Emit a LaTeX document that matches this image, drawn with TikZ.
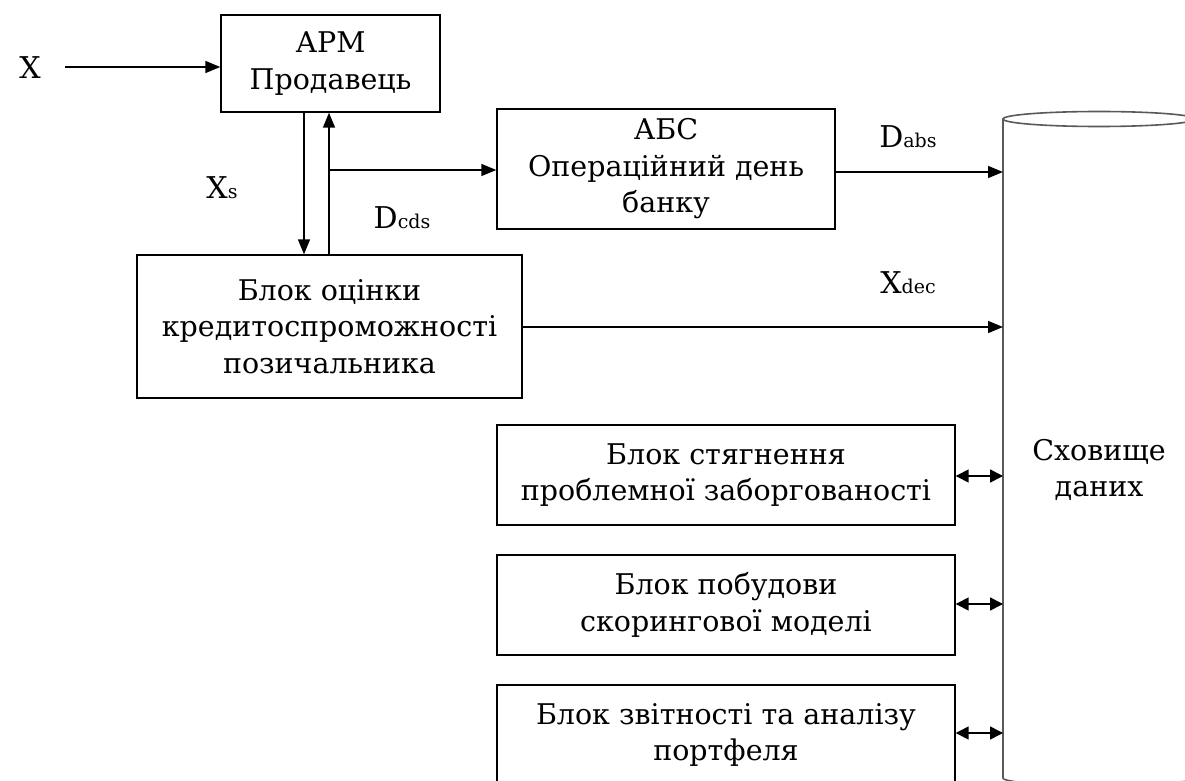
\documentclass[tikz,border=0pt]{standalone}
\usepackage{fontspec}
\setmainfont{DejaVu Serif}
\usetikzlibrary{arrows.meta}
\begin{document}
\begin{tikzpicture}[x=1pt,y=-1pt,
  blk/.style={draw, line width=1.4pt, inner sep=0pt, align=center, font=\fontsize{28.5}{36.5}\selectfont},
  lbl/.style={font=\fontsize{30}{32}\selectfont, inner sep=0pt},
  arr/.style={line width=1.5pt, -{Triangle[length=15pt,width=12pt]}},
  darr/.style={line width=1.5pt, {Triangle[length=13pt,width=13pt]}-{Triangle[length=13pt,width=13pt]}},
  cylline/.style={line width=1.6pt, draw=black!65}]
\useasboundingbox (0,0) rectangle (1185,781);
\clip (0,0) rectangle (1185,781);
% boxes
\node[blk, minimum width=219pt, minimum height=97pt] (apm) at (330.5,63.5) {АРМ\\Продавець};
\node[blk, minimum width=338pt, minimum height=120pt] (abs) at (666,169) {АБС\\Операційний день\\банку};
\node[blk, minimum width=385pt, minimum height=143pt] (ocin) at (329.5,326.5) {Блок оцінки\\кредитоспроможності\\позичальника};
\node[blk, minimum width=458pt, minimum height=100pt] (b1) at (726,475) {Блок стягнення\\проблемної заборгованості};
\node[blk, minimum width=458pt, minimum height=100pt] (b2) at (726,605) {Блок побудови\\скорингової моделі};
\node[blk, minimum width=458pt, minimum height=100pt] (b3) at (726,735) {Блок звітності та аналізу\\портфеля};
% cylinder
\draw[cylline] (1003,119) -- (1003,778) arc[start angle=180, end angle=360, x radius=96pt, y radius=7.5pt];
\draw[cylline] (1099,119) ellipse [x radius=96pt, y radius=7.5pt];
\node[blk, draw=none] (store) at (1099,470) {Сховище\\даних};
\coordinate (cl) at (1003,0);
% labels
\node[lbl] (xl) at (30,68) {X};
\node[lbl] (xsl) at (222,188) {X{\fontsize{19}{19}\selectfont s}};
\node[lbl] (dcl) at (402,218) {D{\fontsize{19}{19}\selectfont cds}};
\node[lbl] (dal) at (908,137) {D{\fontsize{19}{19}\selectfont abs}};
\node[lbl] (xdl) at (908,283) {X{\fontsize{19}{19}\selectfont dec}};
% connectors
\coordinate (xin) at (65,67);
\draw[arr] (xin) -- (xin -| apm.west);
\coordinate (xs) at (304,0);
\draw[arr] (xs |- apm.south) -- (xs |- ocin.north);
\coordinate (dc) at (329,0);
\draw[arr] (dc |- ocin.north) -- (dc |- apm.south);
\coordinate (br) at (329,170);
\draw[arr] (br) -- (br -| abs.west);
\coordinate (ya) at (0,172);
\draw[arr] (abs.east |- ya) -- (cl |- ya);
\coordinate (yx) at (0,327);
\draw[arr] (ocin.east |- yx) -- (cl |- yx);
\coordinate (y1) at (0,476);
\coordinate (y2) at (0,604);
\coordinate (y3) at (0,733);
\draw[darr] (b1.east |- y1) -- (cl |- y1);
\draw[darr] (b2.east |- y2) -- (cl |- y2);
\draw[darr] (b3.east |- y3) -- (cl |- y3);
\end{tikzpicture}
\end{document}
